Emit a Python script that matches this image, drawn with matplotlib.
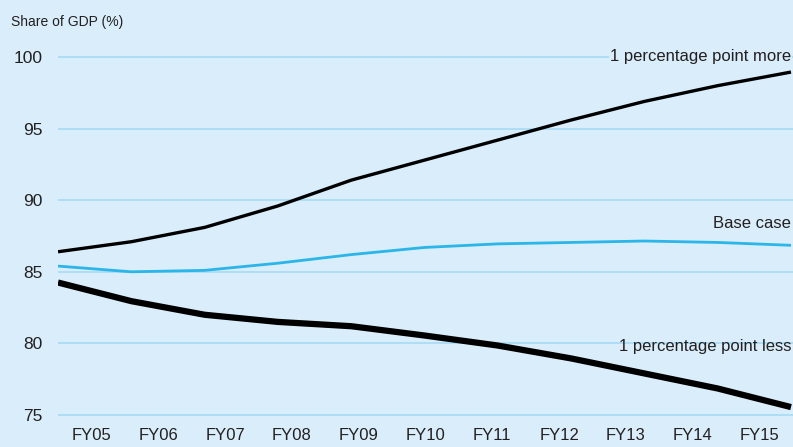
#!/usr/bin/env python3
import matplotlib
matplotlib.use("Agg")
import matplotlib.pyplot as plt

# Fiscal years shown on the x axis
YEARS = ["FY05", "FY06", "FY07", "FY08", "FY09", "FY10",
         "FY11", "FY12", "FY13", "FY14", "FY15"]

# Share of GDP (%) under three scenarios
MORE = [86.4, 87.1, 88.1, 89.6, 91.4, 92.8, 94.2, 95.6, 96.9, 98.0, 98.95]
BASE = [85.4, 85.0, 85.1, 85.6, 86.2, 86.7, 86.95, 87.05, 87.15, 87.05, 86.85]
LESS = [84.25, 82.95, 82.0, 81.5, 81.2, 80.55, 79.85, 78.95, 77.9, 76.85, 75.55]

Y_TICKS = [75, 80, 85, 90, 95, 100]

BG = "#d9eefa"
GRID = "#a6dbf5"
BLUE = "#2bb5e8"
TXT = "#231f20"

plt.rcParams["font.family"] = ["Liberation Sans", "DejaVu Sans"]

W, H = 793, 447
fig = plt.figure(figsize=(W / 100, H / 100), dpi=100, facecolor=BG)
ax = fig.add_axes([58 / W, 1 - 425 / H, (793 - 58) / W, (425 - 45) / H])
ax.set_facecolor(BG)

n = len(YEARS)
xs = list(range(n))
ax.plot(xs, MORE, color="black", lw=2.4, solid_capstyle="butt", zorder=3)
ax.plot(xs, BASE, color=BLUE, lw=2.0, solid_capstyle="butt", zorder=3)
ax.plot(xs, LESS, color="black", lw=4.5, solid_capstyle="butt", zorder=3)

# labels sit centred in 11 equal slots across the plot width
span = (n - 1) * (793 - 58) / (791 - 58)
ax.set_xlim(0, span)
ax.set_ylim(74.3, 100.84)
ax.set_xticks([(i + 0.5) * span / n for i in range(n)])
ax.set_xticklabels(YEARS)
ax.set_yticks(Y_TICKS)
ax.set_yticklabels([str(v) for v in Y_TICKS])
ax.tick_params(axis="x", length=0, pad=2, labelsize=12, colors=TXT)
ax.tick_params(axis="y", length=0, pad=11, labelsize=12.5, colors=TXT)
ax.grid(axis="y", color=GRID, lw=1.2, zorder=0)
ax.set_axisbelow(True)
for sp in ax.spines.values():
    sp.set_visible(False)

fig.text(11 / W, 1 - 22 / H, "Share of GDP (%)", fontsize=10, color=TXT,
         ha="left", va="center")

lab_kw = dict(fontsize=12, color=TXT, ha="right", va="center", zorder=4)
ax.text(n - 1, 100.05, "1 percentage point more",
        bbox=dict(facecolor=BG, edgecolor="none", pad=0.5), **lab_kw)
ax.text(n - 1, 88.4, "Base case", **lab_kw)
ax.text(n - 1, 79.75, "1 percentage point less", **lab_kw)

fig.savefig("out.png", dpi=100, facecolor=BG)
